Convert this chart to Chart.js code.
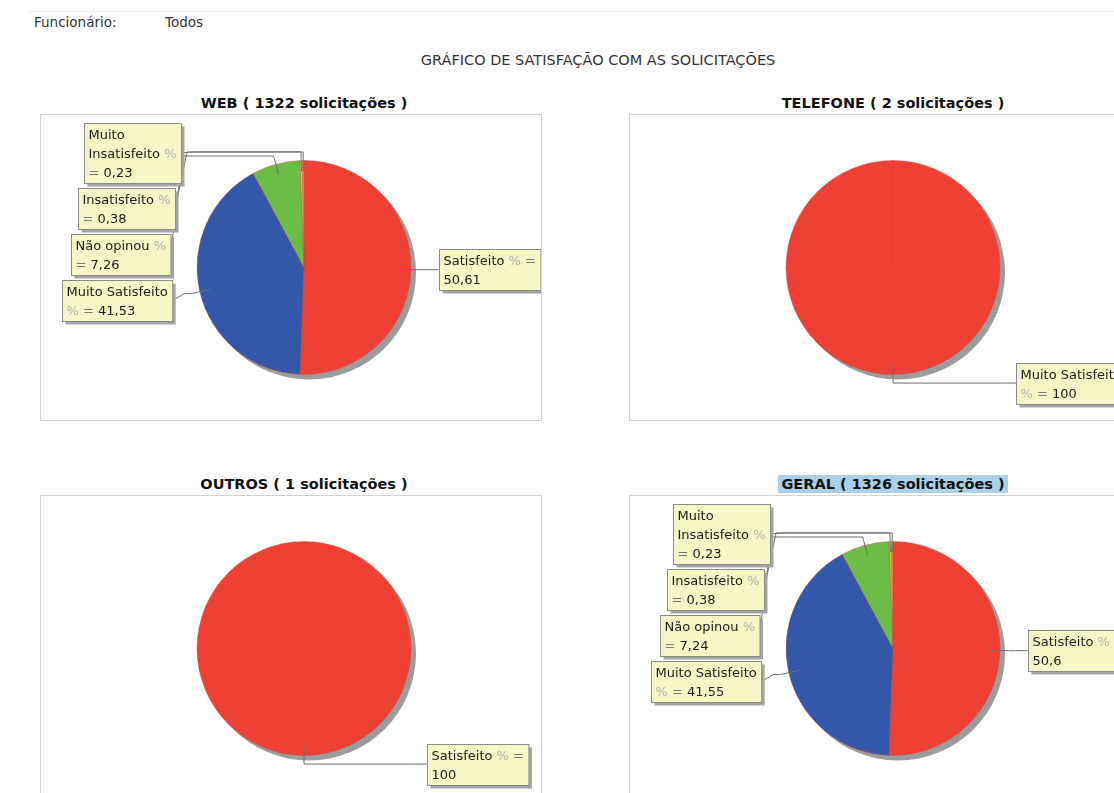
<!DOCTYPE html>
<html lang="pt-BR">
<head>
<meta charset="utf-8">
<title>Gráfico de satisfação com as solicitações</title>
<script src="https://cdn.jsdelivr.net/npm/chart.js@4.4.1/dist/chart.umd.min.js"></script>
<style>
  html, body { margin: 0; padding: 0; background: #fff; overflow: hidden; }
  #page { position: relative; width: 1114px; height: 793px; overflow: hidden;
          font-family: "DejaVu Sans", sans-serif; color: #333; }
  .txt { position: absolute; font-size: 13.5px; line-height: 16px; white-space: nowrap; }
  .main-title { font-size: 14.5px; }
  .panel-title { position: absolute; text-align: center; font-weight: bold; font-size: 14.5px;
                 line-height: 18px; color: #111; white-space: nowrap; }
  .panel-title span { padding: 1px 3px; }
  .panel-title.sel span { background: #a9d1ea; }
  .box { position: absolute; border: 1px solid #d2d2d2; width: 500px; height: 305px; background: #fff; }
  .box canvas { display: block; }
</style>
</head>
<body>
<div id="page">
  <div style="position:absolute;left:28px;right:0;top:11px;height:1px;background:#efefef"></div>
  <div class="txt" style="left:34px;top:14px">Funcionário:</div>
  <div class="txt" style="left:165px;top:14px">Todos</div>
  <div class="txt main-title" style="left:0;width:1196px;text-align:center;top:52px">GRÁFICO DE SATISFAÇÃO COM AS SOLICITAÇÕES</div>
</div>

<script>
// dados
const panelTitles = ['WEB ( 1322 solicitações )', 'TELEFONE ( 2 solicitações )',
                     'OUTROS ( 1 solicitações )', 'GERAL ( 1326 solicitações )'];

const webLabels = ['Satisfeito', 'Muito Satisfeito', 'Não opinou', 'Insatisfeito', 'Muito Insatisfeito'];
const webValues = [50.61, 41.53, 7.26, 0.38, 0.23];

const telefoneLabels = ['Muito Satisfeito'];
const telefoneValues = [100];

const outrosLabels = ['Satisfeito'];
const outrosValues = [100];

const geralLabels = ['Satisfeito', 'Muito Satisfeito', 'Não opinou', 'Insatisfeito', 'Muito Insatisfeito'];
const geralValues = [50.6, 41.55, 7.24, 0.38, 0.23];

const sliceColors = ['#ee4034', '#3357a9', '#6cbd46', '#d9c54c', '#f09a2c'];

// layout dos quadros
const boxLeft = [40, 629, 40, 629];
const boxTop = [114, 114, 495, 495];

const LABEL_FONT = '13px "DejaVu Sans", sans-serif';
const LINE_H = 19;
const GAP = 5;

function fmt(v) {
    return String(v).replace('.', ',');
}

function wrapWords(ctx, words, maxW) {
    const lines = [];
    let cur = [];
    words.forEach(w => {
        const test = cur.concat([w]).join(' ');
        if (cur.length && ctx.measureText(test).width > maxW) {
            lines.push(cur);
            cur = [w];
        } else {
            cur.push(w);
        }
    });
    if (cur.length) lines.push(cur);
    return lines;
}

// sombra cinza atrás da pizza
const pieShadow = {
    id: 'pieShadow',
    beforeDatasetsDraw(chart) {
        const arc = chart.getDatasetMeta(0).data[0];
        const ctx = chart.ctx;
        ctx.save();
        ctx.fillStyle = '#9c9c9c';
        ctx.beginPath();
        ctx.arc(arc.x + 5, arc.y + 5, arc.outerRadius, 0, Math.PI * 2);
        ctx.fill();
        ctx.restore();
    }
};

// caixinhas amarelas com as linhas de ligação
const callouts = {
    id: 'callouts',
    afterDatasetsDraw(chart) {
        const ctx = chart.ctx;
        const meta = chart.getDatasetMeta(0);
        const values = chart.data.datasets[0].data;
        const labels = chart.data.labels;
        ctx.save();
        ctx.font = LABEL_FONT;
        const spaceW = ctx.measureText(' ').width;

        const items = meta.data.map((arc, i) => {
            const mid = (arc.startAngle + arc.endAngle) / 2;
            const r = arc.outerRadius;
            const words = (labels[i] + ' % = ' + fmt(values[i])).split(' ');
            const lines = wrapWords(ctx, words, 102.5);
            const w = Math.max(...lines.map(l => ctx.measureText(l.join(' ')).width)) + 9;
            const h = lines.length * LINE_H + 3;
            return {
                arc, mid, r, lines, w, h,
                right: Math.cos(mid) > -1e-9,
                cy: arc.y + Math.sin(mid) * r * 1.08
            };
        });

        [true, false].forEach(side => {
            const list = items.filter(it => it.right === side).sort((a, b) => a.cy - b.cy);
            let prevBottom = 8 - GAP;
            list.forEach(it => {
                it.top = Math.max(it.cy - it.h / 2, prevBottom + GAP);
                prevBottom = it.top + it.h;
            });
            let limit = chart.height - 6;
            for (let k = list.length - 1; k >= 0; k--) {
                const it = list[k];
                if (it.top + it.h > limit) it.top = limit - it.h;
                limit = it.top - GAP;
            }
        });

        // linhas
        ctx.strokeStyle = '#6e6e6e';
        ctx.lineWidth = 1;
        items.forEach(it => {
            const { arc, mid, r } = it;
            const dy = it.top + it.h / 2 - arc.y;
            const off = 1.26 * r - 0.1 * Math.abs(dy);
            it.x = it.right ? arc.x + off : arc.x - off - it.w;
            const ax = arc.x + Math.cos(mid) * r * 0.9, ay = arc.y + Math.sin(mid) * r * 0.9;
            const ex = arc.x + Math.cos(mid) * r * 1.08, ey = arc.y + Math.sin(mid) * r * 1.08;
            const edgeX = it.right ? it.x : it.x + it.w;
            const kneeX = it.right ? edgeX - 12 : edgeX + 12;
            ctx.beginPath();
            ctx.moveTo(ax, ay);
            ctx.lineTo(ex, ey);
            if (it.right ? ex < kneeX : ex > kneeX) ctx.lineTo(kneeX, ey);
            ctx.lineTo(edgeX, it.top + it.h / 2);
            ctx.stroke();
        });

        // caixas
        items.forEach(it => {
            const x = Math.round(it.x) + 0.5, y = Math.round(it.top) + 0.5;
            ctx.fillStyle = '#a5a5a5';
            ctx.fillRect(x + 3, y + 3, it.w, it.h);
            ctx.fillStyle = '#f6f6c6';
            ctx.fillRect(x, y, it.w, it.h);
            ctx.strokeStyle = '#8a8a8a';
            ctx.strokeRect(x, y, it.w, it.h);
            it.lines.forEach((line, li) => {
                let tx = x + 4;
                const ty = y + 15 + li * LINE_H;
                line.forEach(word => {
                    ctx.fillStyle = word === '%' ? '#b4b4b4' : (word === '=' ? '#777' : '#1a1a1a');
                    ctx.fillText(word, tx, ty);
                    tx += ctx.measureText(word).width + spaceW;
                });
            });
        });
        ctx.restore();
    }
};

const panelData = [
    [webLabels, webValues],
    [telefoneLabels, telefoneValues],
    [outrosLabels, outrosValues],
    [geralLabels, geralValues]
];

const page = document.getElementById('page');

panelData.forEach(([labels, values], i) => {
    const title = document.createElement('div');
    title.className = 'panel-title' + (i === 3 ? ' sel' : '');
    title.style.left = boxLeft[i] + 'px';
    title.style.width = '528px';
    title.style.top = (boxTop[i] - 20) + 'px';
    const span = document.createElement('span');
    span.textContent = panelTitles[i];
    title.appendChild(span);
    page.appendChild(title);

    const box = document.createElement('div');
    box.className = 'box';
    box.style.left = boxLeft[i] + 'px';
    box.style.top = boxTop[i] + 'px';
    const canvas = document.createElement('canvas');
    canvas.width = 500;
    canvas.height = 305;
    box.appendChild(canvas);
    page.appendChild(box);

    new Chart(canvas, {
        type: 'pie',
        data: {
            labels: labels,
            datasets: [{
                data: values,
                backgroundColor: sliceColors.slice(0, values.length),
                borderColor: 'rgba(200, 70, 60, 0.55)',
                borderWidth: 0.7
            }]
        },
        options: {
            responsive: false,
            animation: false,
            radius: 107,
            layout: { padding: { left: 26 } },
            plugins: {
                legend: { display: false },
                tooltip: { enabled: false }
            }
        },
        plugins: [pieShadow, callouts]
    });
});
</script>
</body>
</html>
